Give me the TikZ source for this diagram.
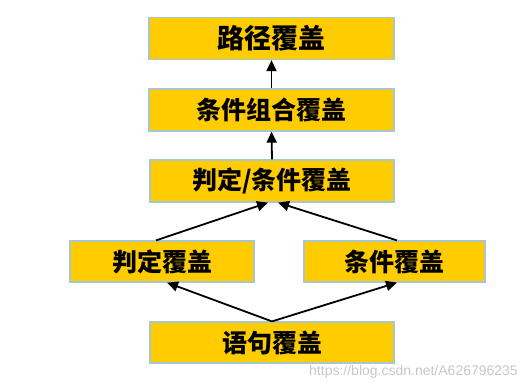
\documentclass[tikz,border=0pt]{standalone}
\usepackage{fontspec}
\newfontfamily\cjk{Noto Sans CJK SC}
\newfontfamily\wm{Liberation Sans}
\usetikzlibrary{arrows.meta}
\definecolor{boxfill}{HTML}{FFCC00}
\definecolor{boxline}{HTML}{A9C6CC}
\begin{document}
\begin{tikzpicture}[x=1pt,y=-1pt,
  box/.style={draw=boxline,line width=1.2pt,fill=boxfill,inner sep=0pt,
    minimum height=42pt,font=\cjk\bfseries\fontsize{25}{29}\selectfont},
  conn/.style={line width=1.8pt,-{Triangle[length=11pt,width=10pt]}}]
\useasboundingbox (0,0) rectangle (528,391);
\node[box,minimum width=245pt,font=\cjk\bfseries\fontsize{27}{31}\selectfont] (A) at (271.5,38.5) {路径覆盖};
\node[box,minimum width=245pt] (B) at (271.5,110) {条件组合覆盖};
\node[box,minimum width=244pt] (C) at (272,181) {判定/条件覆盖};
\node[box,minimum width=184pt,minimum height=41pt] (D) at (162,261.5) {判定覆盖};
\node[box,minimum width=181pt,minimum height=41pt] (E) at (394.5,261.5) {条件覆盖};
\node[box,minimum width=244pt,minimum height=41pt] (F) at (272,342.5) {语句覆盖};
\draw[conn] (B.north) -- (A.south);
\draw[conn] (C.north) -- (B.south);
\draw[conn] ([xshift=-6pt]D.north) -- ([xshift=-4pt]C.south);
\draw[conn] ([xshift=2.5pt]E.north) -- ([xshift=6pt]C.south);
\draw[conn] (F.north) -- ([xshift=5pt]D.south);
\draw[conn] (F.north) -- ([xshift=2.5pt]E.south);
\node[font=\wm\fontsize{14}{16}\selectfont,text=black!22,anchor=east,inner sep=0pt] (W) at (518,372) {https://blog.csdn.net/A626796235};
\end{tikzpicture}
\end{document}
